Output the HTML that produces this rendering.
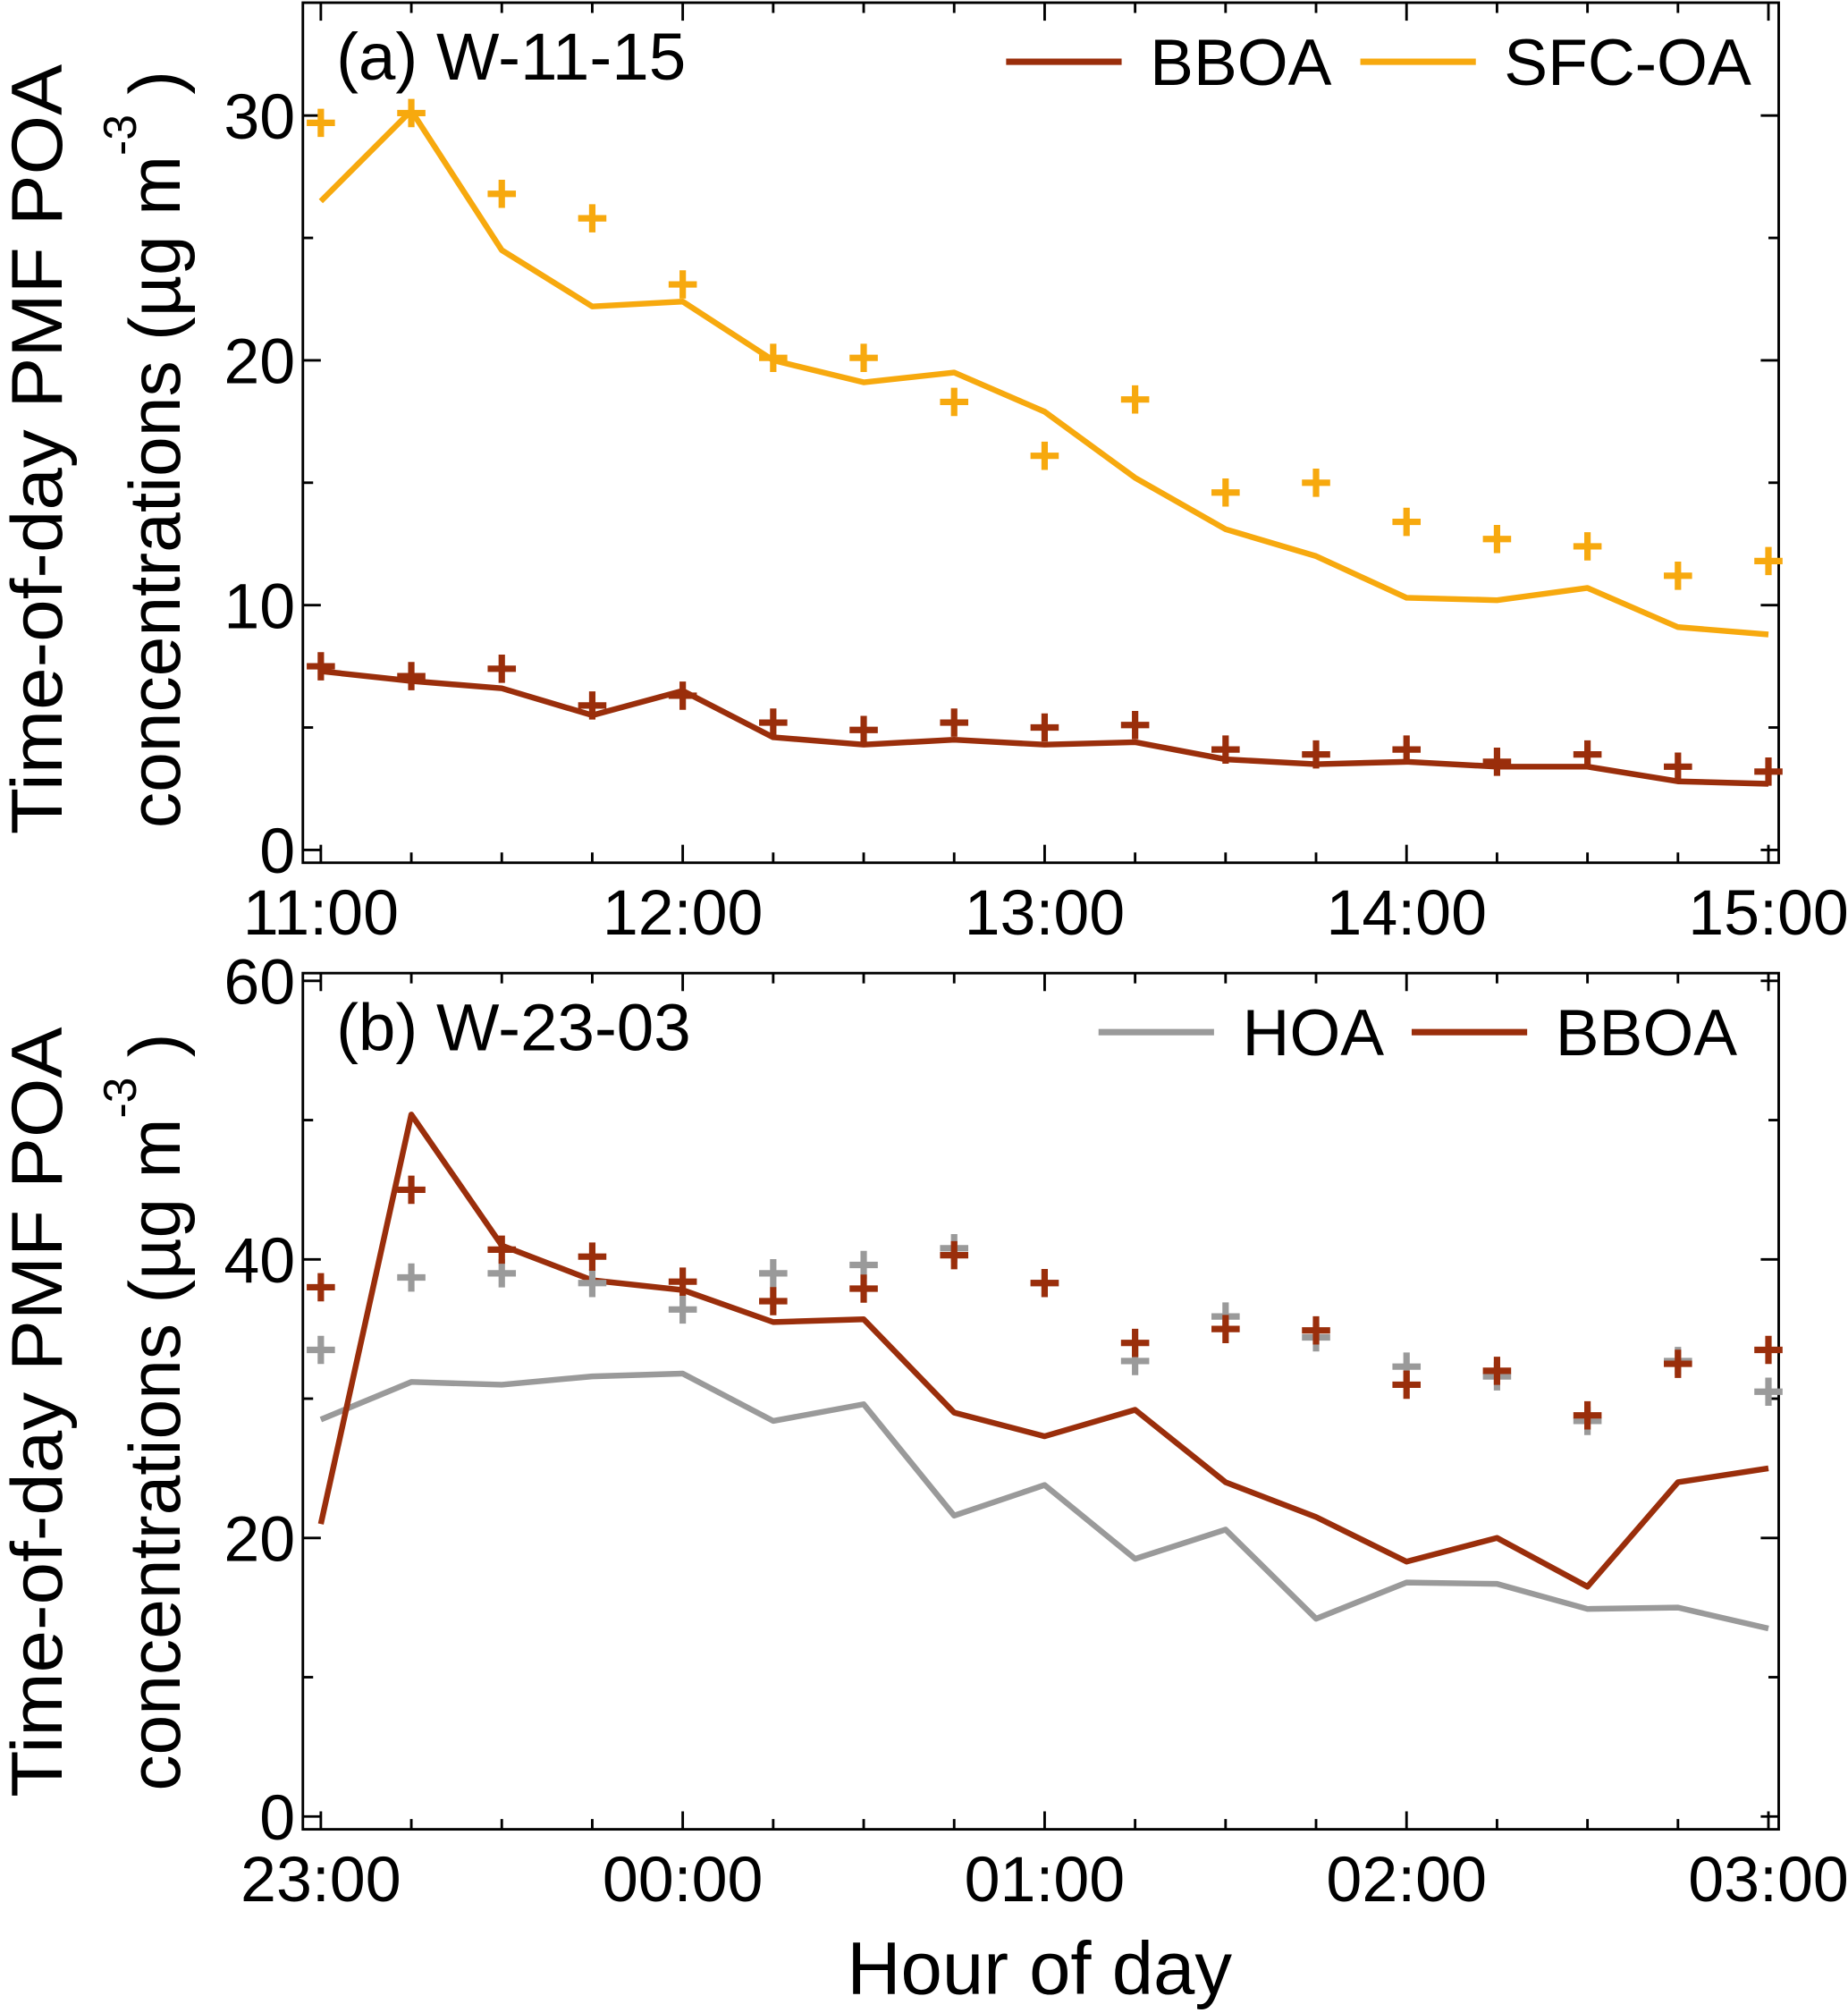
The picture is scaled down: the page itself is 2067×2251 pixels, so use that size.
<!DOCTYPE html>
<html><head><meta charset="utf-8"><style>
html,body{margin:0;padding:0;background:#fff}
svg{display:block;font-family:"Liberation Sans",sans-serif}
</style></head><body>
<svg id="chart" width="2067" height="2251" viewBox="0 0 1440 1568" xmlns="http://www.w3.org/2000/svg">
<g id="pa"></g>
<g id="pb"></g>
<text x="810" y="1553" text-anchor="middle" font-size="58" textLength="300" lengthAdjust="spacingAndGlyphs">Hour of day</text>
</svg>
<script>
const ticksA = ["11:00","12:00","13:00","14:00","15:00"];
const ticksB = ["23:00","00:00","01:00","02:00","03:00"];
const sfcLine = [26.5,30.2,24.5,22.2,22.4,20.0,19.1,19.5,17.9,15.2,13.1,12.0,10.3,10.2,10.7,9.1,8.8];
const sfcPts = [29.7,30.1,26.8,25.8,23.1,20.1,20.1,18.3,16.1,18.4,14.6,15.0,13.4,12.7,12.4,11.2,11.8];
const bbA_Line = [7.3,6.9,6.6,5.5,6.5,4.6,4.3,4.5,4.3,4.4,3.7,3.5,3.6,3.4,3.4,2.8,2.7];
const bbA_Pts = [7.5,7.1,7.4,5.9,6.3,5.2,4.9,5.2,5.0,5.1,4.1,3.9,4.1,3.6,3.9,3.4,3.2];
const bbB_Line = [21,50.4,41,38.5,37.8,35.5,35.7,29,27.3,29.2,24,21.5,18.3,20,16.5,24,25];
const hoaLine = [28.5,31.2,31.0,31.6,31.8,28.4,29.6,21.6,23.8,18.5,20.6,14.2,16.8,16.7,14.9,15.0,13.5];
const bbB_Pts = [38,45,40.7,40.2,38.4,37,37.9,40.3,38.3,34,35,34.9,31,32,28.8,32.5,33.5];
const hoaPts = [33.5,38.7,39,38.3,36.4,39,39.6,40.8,38.3,32.7,35.9,34.4,32.3,31.6,28.4,32.7,30.5];
const ORANGE="#f7a90e", BROWN="#9a2e0b", GRAY="#9a9a9a";
const NS="http://www.w3.org/2000/svg";
function mk(parent,tag,attrs){const e=document.createElementNS(NS,tag);for(const k in attrs)e.setAttribute(k,attrs[k]);parent.appendChild(e);return e;}
function panel(g,cfg){
  const X0=236,X1=1386,xs=i=>250+i*(1128/16);
  const ys=v=>cfg.y0-v*cfg.k;
  const box=mk(g,'rect',{x:X0,y:cfg.top,width:X1-X0,height:cfg.bot-cfg.top,fill:'none',stroke:'#000','stroke-width':2});
  
  
  for(let i=0;i<=16;i++){
    const x=xs(i),L=i%4==0?14:8;
    mk(g,'line',{x1:x,y1:cfg.bot,x2:x,y2:cfg.bot-L,stroke:'#000','stroke-width':2});
    mk(g,'line',{x1:x,y1:cfg.top,x2:x,y2:cfg.top+L,stroke:'#000','stroke-width':2});
  }
  cfg.xt.forEach((t,i)=>{const e=mk(g,'text',{x:xs(i*4),y:cfg.bot+56,'text-anchor':'middle','font-size':50});e.textContent=t;
    
    });
  for(let v=0;v<=cfg.ymax;v+=cfg.minor){
    const y=ys(v);if(y<cfg.top)continue;const L=(v%cfg.major==0)?14:8;
    mk(g,'line',{x1:X0,y1:y,x2:X0+L,y2:y,stroke:'#000','stroke-width':2});
    mk(g,'line',{x1:X1,y1:y,x2:X1-L,y2:y,stroke:'#000','stroke-width':2});
    if(v%cfg.major==0){const e=mk(g,'text',{x:X0-6,y:y+18,'text-anchor':'end','font-size':50});e.textContent=v;
      
      }
  }
  cfg.series.forEach(s=>{
    const l=mk(g,'polyline',{points:s.line.map((v,i)=>xs(i)+','+ys(v)).join(' '),fill:'none',stroke:s.c,'stroke-width':4.5,'stroke-linejoin':'round'});
    
    
  });
  cfg.series.forEach(s=>{
    s.pts.forEach((v,i)=>{const x=xs(i),y=ys(v);
      const p=mk(g,'path',{d:`M${x-11},${y}H${x+11}M${x},${y-11}V${y+11}`,stroke:s.c,'stroke-width':5});
      
      });
  });
  const cy=cfg.cy;
  const t1=mk(g,'text',{x:0,y:0,'text-anchor':'middle','font-size':56,textLength:600,lengthAdjust:'spacingAndGlyphs',transform:`translate(48,${cy}) rotate(-90)`});
  t1.textContent='Time-of-day PMF POA';
  
  
  const t2=mk(g,'text',{x:0,y:0,'text-anchor':'middle','font-size':56,transform:`translate(140,${cy}) rotate(-90)`});
  t2.innerHTML='concentrations (µg m<tspan dy="-34" font-size="36">-3</tspan><tspan dy="34"> )</tspan>';
  
  
  const lab=mk(g,'text',{x:262,y:cfg.top+60,'font-size':52});lab.textContent=cfg.label;
  
  
  cfg.legend.forEach(le=>{
    mk(g,'line',{x1:le.x,y1:cfg.top+46,x2:le.x+90,y2:cfg.top+46,stroke:le.c,'stroke-width':5});
    const e=mk(g,'text',{x:le.x+112,y:cfg.top+64,'font-size':51});e.textContent=le.t;
    
    
  });
}
panel(document.getElementById('pa'),{top:2,bot:672,y0:662,k:19.07,ymax:35,minor:5,major:10,xt:ticksA,label:'(a) W-11-15',cy:350,
  series:[{n:'sfc-oa',c:ORANGE,line:sfcLine,pts:sfcPts},{n:'bboa',c:BROWN,line:bbA_Line,pts:bbA_Pts}],
  legend:[{x:784,c:BROWN,t:'BBOA'},{x:1060,c:ORANGE,t:'SFC-OA'}]});
panel(document.getElementById('pb'),{top:758,bot:1425,y0:1415,k:10.85,ymax:60,minor:10,major:20,xt:ticksB,label:'(b) W-23-03',cy:1100,
  series:[{n:'hoa',c:GRAY,line:hoaLine,pts:hoaPts},{n:'bboa',c:BROWN,line:bbB_Line,pts:bbB_Pts}],
  legend:[{x:856,c:GRAY,t:'HOA'},{x:1100,c:BROWN,t:'BBOA'}]});
</script>
</body></html>
